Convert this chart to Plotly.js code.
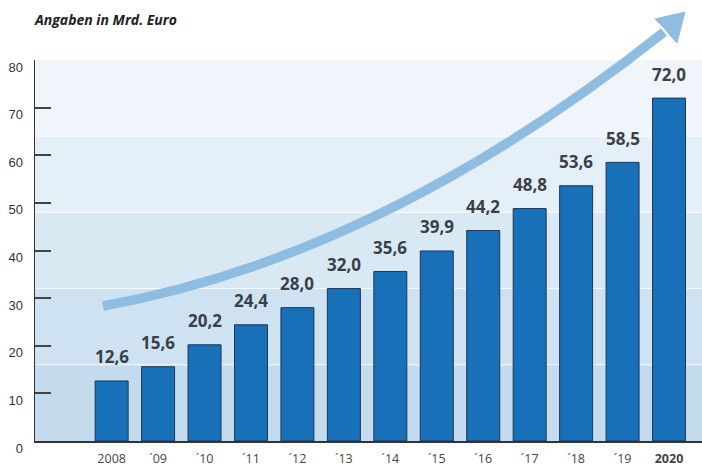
<!DOCTYPE html>
<html><head><meta charset="utf-8">
<script src="https://cdn.plot.ly/plotly-3.0.1.min.js"></script>
<style>body{margin:0;background:#fff}</style></head>
<body><div id="chart" style="width:702px;height:465px"></div>
<script>
const years = ['2008','´09','´10','´11','´12','´13','´14','´15','´16','´17','´18','´19','2020'];
const yearLabels = ['2008','´09','´10','´11','´12','´13','´14','´15','´16','´17','´18','´19','<b>2020</b>'];
const values = [12.6, 15.6, 20.2, 24.4, 28.0, 32.0, 35.6, 39.9, 44.2, 48.8, 53.6, 58.5, 72.0];
const valueLabels = ['12,6','15,6','20,2','24,4','28,0','32,0','35,6','39,9','44,2','48,8','53,6','58,5','72,0'];
const yTicks = [0, 10, 20, 30, 40, 50, 60, 70, 80];
const bandEdges = [0, 16, 32, 48, 64, 80];
const bandColors = ['#c4dbee', '#cfe2f1', '#d9e9f4', '#e4eff7', '#eff5fa'];

// plot area in pixels (for decoration path only)
const L = 35, R = 702, T = 60, B = 441;
const px = x => ((x - L) / (R - L)).toFixed(4);
const py = y => ((B - y) / (B - T)).toFixed(4);

const shapes = [];
for (let i = 0; i < bandColors.length; i++) {
  shapes.push({type:'rect', xref:'paper', yref:'y', x0:0, x1:1, y0:bandEdges[i], y1:bandEdges[i+1],
    fillcolor:bandColors[i], line:{width:0}, layer:'below'});
}
for (let i = 1; i < bandEdges.length - 1; i++) {
  shapes.push({type:'line', xref:'paper', yref:'y', x0:0, x1:1, y0:bandEdges[i], y1:bandEdges[i],
    line:{color:'rgba(255,255,255,0.75)', width:1}, layer:'below'});
}
// growth arrow (decoration)
shapes.push({type:'path', xref:'paper', yref:'paper',
  path:`M ${px(103)},${py(306)} C ${px(303)},${py(270)} ${px(490)},${py(170)} ${px(664)},${py(32)}`,
  line:{color:'#8fbde1', width:9.5}, layer:'above'});
shapes.push({type:'path', xref:'paper', yref:'paper',
  path:`M ${px(685)},${py(12)} L ${px(655)},${py(19)} L ${px(664)},${py(28)} L ${px(668)},${py(33)} L ${px(677)},${py(43)} Z`,
  fillcolor:'#8fbde1', line:{color:'#8fbde1', width:1}, layer:'above'});

const annotations = years.map((yr, i) => ({
  x: i, y: values[i], xref:'x', yref:'y', text: valueLabels[i], showarrow:false,
  yanchor:'middle', yshift: 24,
  font:{family:'Open Sans, sans-serif', size:17, color:'#3a4048', weight:'bold'}
}));

const trace = {
  type:'bar', x: years, y: values, width: 0.71,
  marker:{color:'#1870b8', line:{color:'#1b3656', width:1}},
  hoverinfo:'none'
};

const layout = {
  width:702, height:465,
  margin:{l:L, r:0, t:T, b:465-B, pad:0},
  paper_bgcolor:'#ffffff', plot_bgcolor:'rgba(0,0,0,0)',
  showlegend:false,
  title:{text:'<b><i>Angaben in Mrd. Euro</i></b>', x:35/702, xanchor:'left', xref:'container',
    y:1-20/465, yanchor:'middle', yref:'container',
    font:{family:'Open Sans, sans-serif', size:14, color:'#222'}},
  xaxis:{type:'category', range:[-1.65, 12.71], tickvals:years, ticktext:yearLabels,
    showgrid:false, zeroline:false, showline:true, linecolor:'#333', linewidth:1.5,
    ticks:'', ticklabelstandoff:5,
    tickfont:{family:'Open Sans, sans-serif', size:12.5, color:'#444'}, fixedrange:true},
  yaxis:{range:[0,80], tickvals:yTicks, showgrid:false, zeroline:false,
    showline:true, linecolor:'#333', linewidth:1.5,
    ticks:'inside', ticklen:16, tickwidth:2, tickcolor:'#444',
    ticklabelshift:7, ticklabelstandoff:8,
    tickfont:{family:'Liberation Sans, Arial, sans-serif', size:13, color:'#333'}, fixedrange:true},
  shapes: shapes,
  annotations: annotations,
  bargap:0
};

Plotly.newPlot('chart', [trace], layout, {displayModeBar:false, staticPlot:true});
</script></body></html>
